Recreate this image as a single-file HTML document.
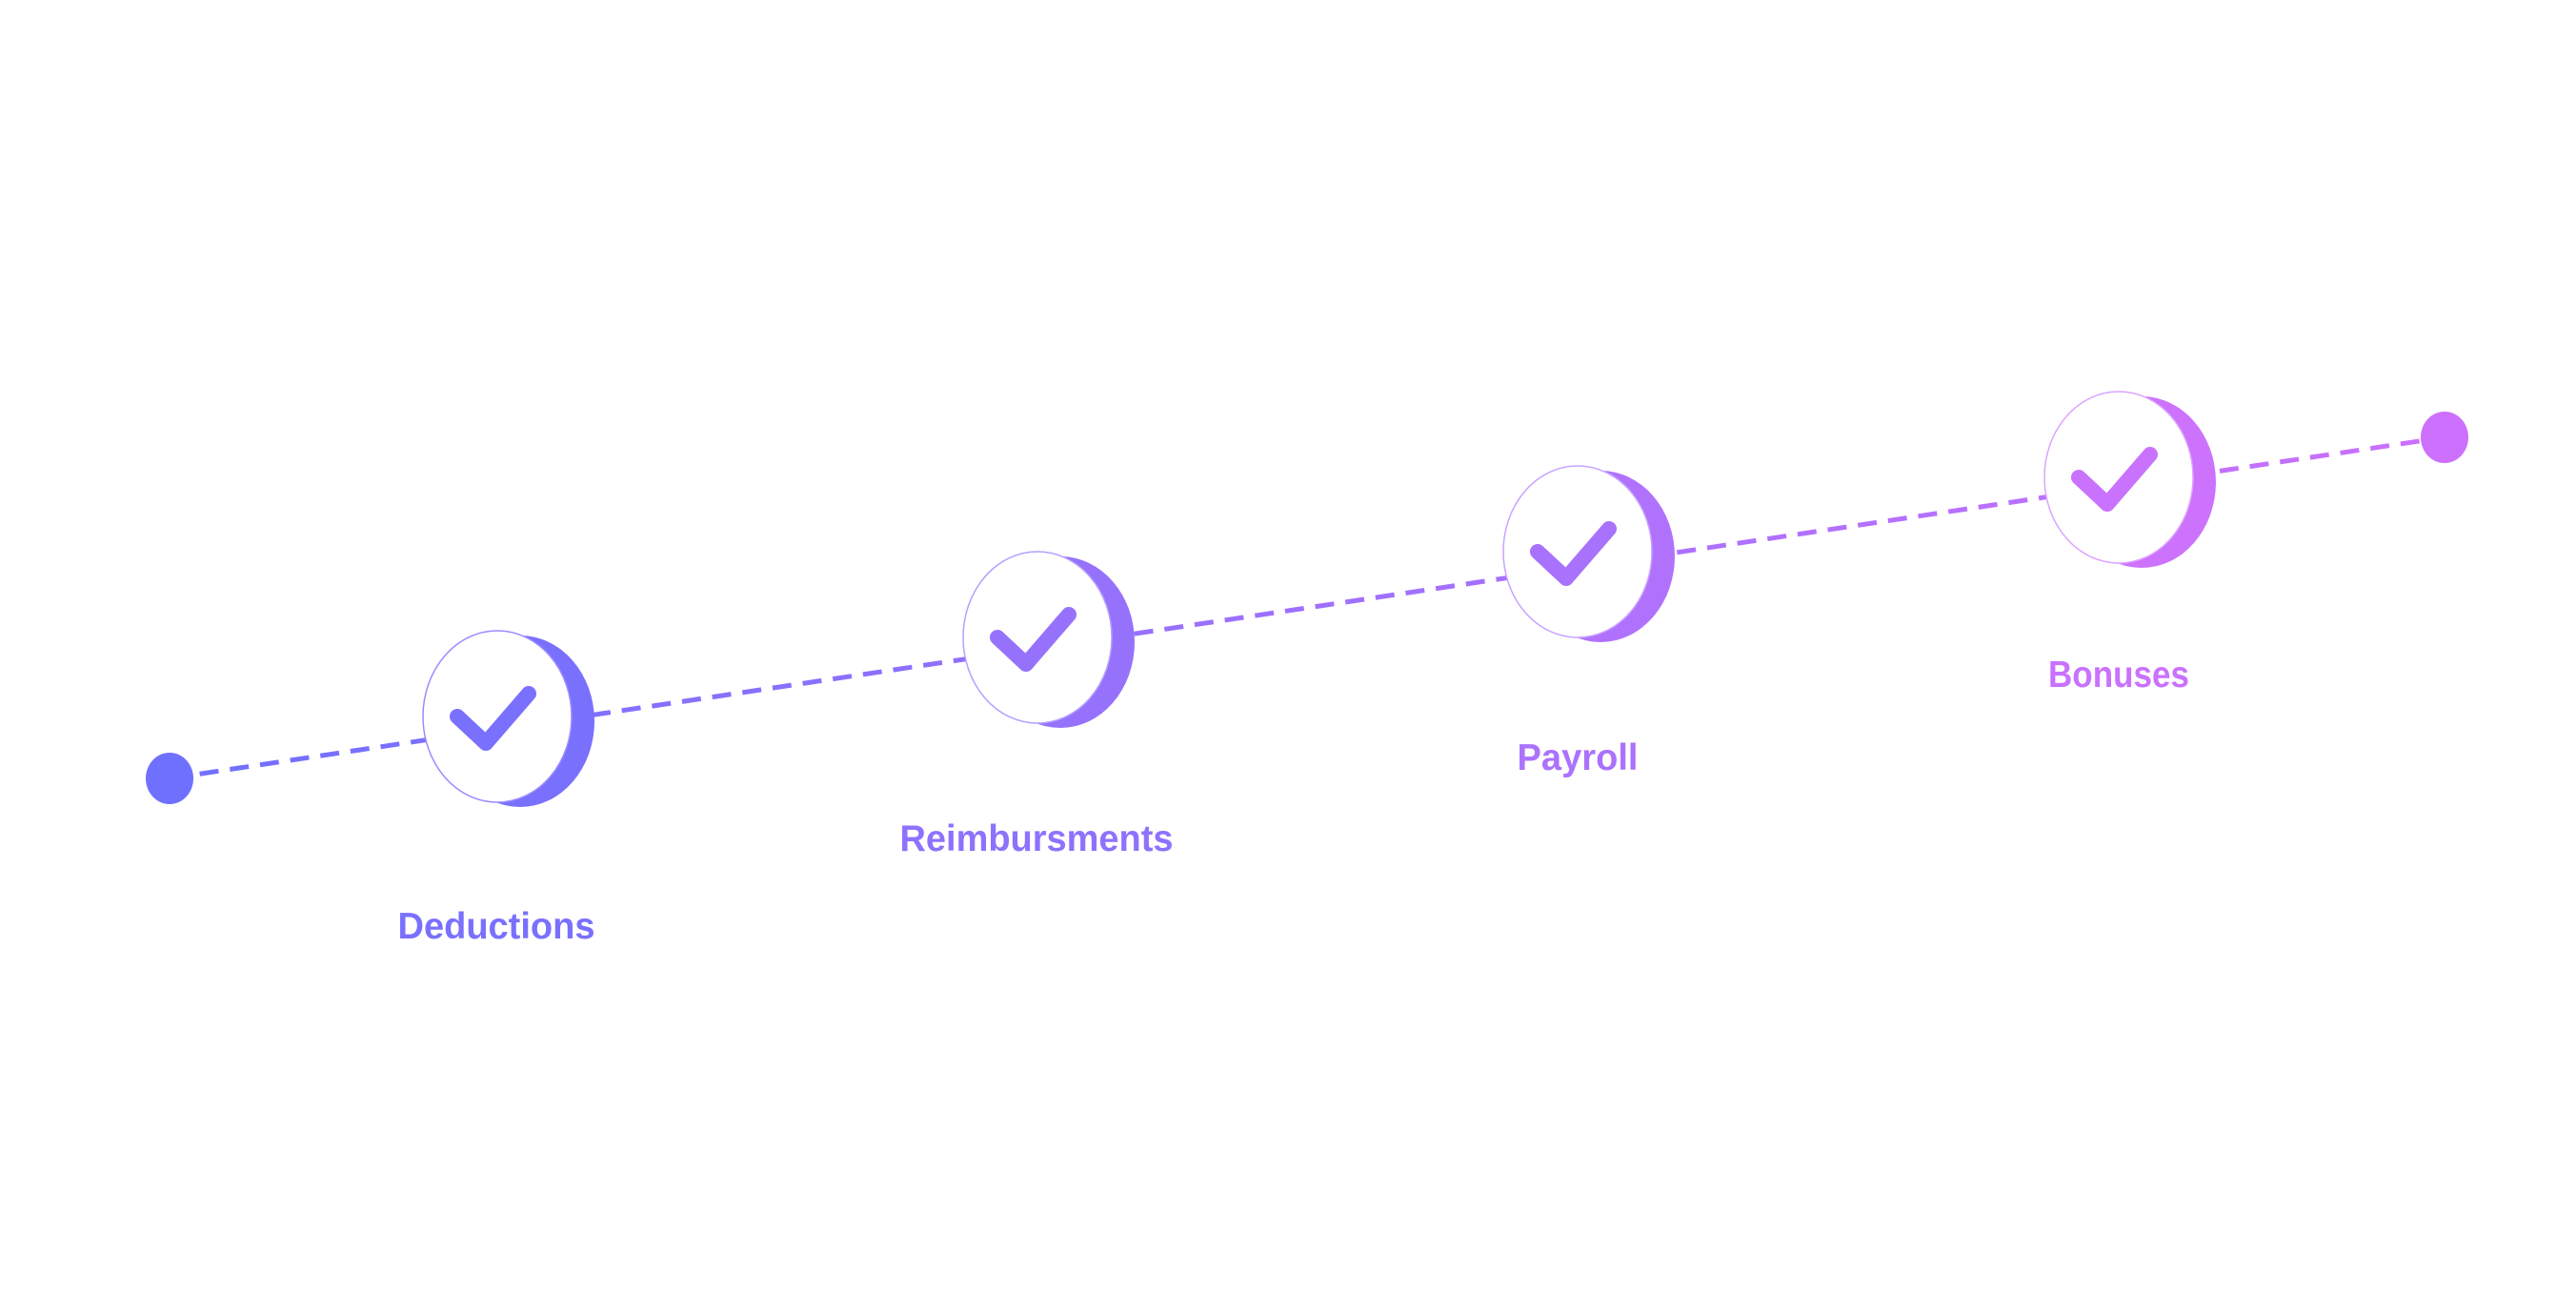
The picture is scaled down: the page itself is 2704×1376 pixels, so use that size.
<!DOCTYPE html>
<html><head><meta charset="utf-8"><style>html,body{margin:0;padding:0;background:#fff;}svg{display:block}</style></head>
<body>
<svg width="2704" height="1376" viewBox="0 0 2704 1376" xmlns="http://www.w3.org/2000/svg">
<defs>
<linearGradient id="g" gradientUnits="userSpaceOnUse" x1="150" y1="0" x2="2590" y2="0">
<stop offset="0" stop-color="#7070ff"/><stop offset="1" stop-color="#cc70fd"/>
</linearGradient>
</defs>
<rect width="2704" height="1376" fill="#fff"/>
<line x1="178" y1="817" x2="2566" y2="459" stroke="url(#g)" stroke-width="5" stroke-dasharray="20 12"/>
<ellipse cx="178" cy="817" rx="25" ry="27" fill="#7070ff"/>
<ellipse cx="2566" cy="459" rx="25" ry="27" fill="#cc70fd"/>

<g font-family="'Liberation Sans', sans-serif" font-size="39" font-weight="bold" text-anchor="middle" stroke-linecap="round" stroke-linejoin="round">
<g transform="translate(522,752)">
<ellipse cx="24" cy="5" rx="78" ry="90" fill="#7a70fe"/>
<ellipse cx="0" cy="0" rx="78" ry="90" fill="#fff" stroke="#9c8cff" stroke-width="1.5"/>
<polyline points="-42,0 -12,28 33,-24" fill="none" stroke="#7a70fe" stroke-width="16"/>
</g>
<text x="521" y="985" fill="#7a70fe" textLength="207" lengthAdjust="spacingAndGlyphs">Deductions</text>
<g transform="translate(1089,669)">
<ellipse cx="24" cy="5" rx="78" ry="90" fill="#9672fc"/>
<ellipse cx="0" cy="0" rx="78" ry="90" fill="#fff" stroke="#b4a0ff" stroke-width="1.5"/>
<polyline points="-42,0 -12,28 33,-24" fill="none" stroke="#9672fc" stroke-width="16"/>
</g>
<text x="1088" y="893" fill="#8d72fd" textLength="287" lengthAdjust="spacingAndGlyphs">Reimbursments</text>
<g transform="translate(1656,579)">
<ellipse cx="24" cy="5" rx="78" ry="90" fill="#b072fc"/>
<ellipse cx="0" cy="0" rx="78" ry="90" fill="#fff" stroke="#c8a4ff" stroke-width="1.5"/>
<polyline points="-42,0 -12,28 33,-24" fill="none" stroke="#a872fc" stroke-width="16"/>
</g>
<text x="1656" y="808" fill="#ab72fc" textLength="127" lengthAdjust="spacingAndGlyphs">Payroll</text>
<g transform="translate(2224,501)">
<ellipse cx="24" cy="5" rx="78" ry="90" fill="#cc72fd"/>
<ellipse cx="0" cy="0" rx="78" ry="90" fill="#fff" stroke="#dca4ff" stroke-width="1.5"/>
<polyline points="-42,0 -12,28 33,-24" fill="none" stroke="#c972fd" stroke-width="16"/>
</g>
<text x="2224" y="721" fill="#c972fd" textLength="148" lengthAdjust="spacingAndGlyphs">Bonuses</text>
</g>
</svg>
</body></html>
